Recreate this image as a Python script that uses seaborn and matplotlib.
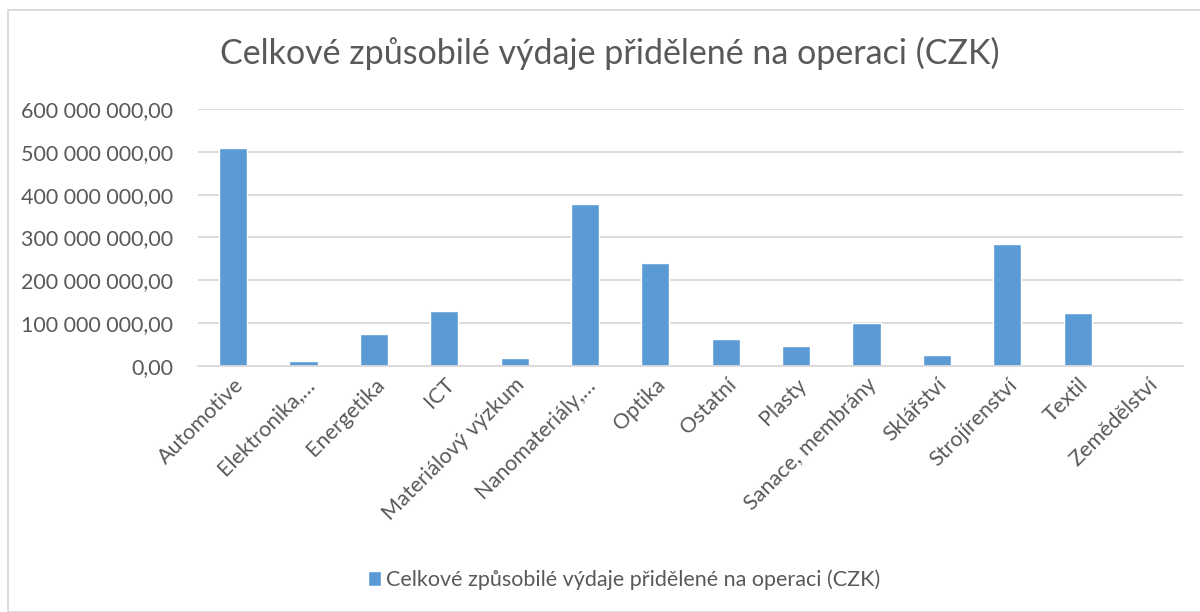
import matplotlib
matplotlib.use("Agg")
import matplotlib.pyplot as plt
import seaborn as sns
import pandas as pd
from matplotlib.ticker import FuncFormatter
from matplotlib.patches import Rectangle

categories = ["Automotive", "Elektronika,…", "Energetika", "ICT", "Materiálový výzkum",
              "Nanomateriály,…", "Optika", "Ostatní", "Plasty", "Sanace, membrány",
              "Sklářství", "Strojírenství", "Textil", "Zemědělství"]
values = [508e6, 12.5e6, 74e6, 129e6, 19e6, 378e6, 240e6, 62e6, 46e6, 100e6,
          26e6, 285e6, 123e6, 0]
series_name = "Celkové způsobilé výdaje přidělené na operaci (CZK)"
yticks = [0, 100e6, 200e6, 300e6, 400e6, 500e6, 600e6]

sns.set_style("white")
plt.rcParams['font.family'] = ['Lato', 'DejaVu Sans']

df = pd.DataFrame({"cat": categories, "val": values, "series": series_name})

fig = plt.figure(figsize=(12, 6.12), dpi=100)
ax = fig.add_axes([0.165, 0.402, 0.821, 0.42])

sns.barplot(data=df, x="cat", y="val", hue="series", palette=["#5B9BD5"],
            width=0.4, ax=ax, legend=True, saturation=1)

ax.set_ylim(0, 600e6)
ax.set_yticks(yticks)
def fmt(v, pos):
    s = f"{v:,.2f}".replace(",", " ").replace(".", ",")
    return s
ax.yaxis.set_major_formatter(FuncFormatter(fmt))
ax.grid(axis="y", color="#D9D9D9", linewidth=1.3)
ax.set_axisbelow(True)
for s in ["left", "right", "top"]:
    ax.spines[s].set_visible(False)
ax.spines["bottom"].set_color("#D9D9D9")
ax.spines["bottom"].set_linewidth(1.3)
ax.set_xlabel("")
ax.set_ylabel("")
ax.tick_params(axis="both", length=0, colors="#595959", labelsize=15.5)
ax.tick_params(axis="y", pad=18)
ax.tick_params(axis="x", pad=6)
ax.set_xlim(-0.5, len(categories) - 0.5)
for lab in ax.get_xticklabels():
    lab.set_rotation(45)
    lab.set_ha("right")
    lab.set_rotation_mode("anchor")
    lab.set_color("#595959")

fig.suptitle(series_name, x=0.508, y=0.94, fontsize=24.5, color="#595959")

ax.legend(loc="center", bbox_to_anchor=(0.52, 0.052), bbox_transform=fig.transFigure,
          frameon=False, fontsize=15.5, labelcolor="#595959",
          handlelength=0.6, handleheight=0.7, handletextpad=0.25)

fig.patches.append(Rectangle((8 / 1200, 0), 1.1, 1 - 10 / 612, transform=fig.transFigure,
                             fill=False, edgecolor="#D9D9D9", linewidth=1.3))

fig.savefig("out.png", dpi=100, facecolor="white")
